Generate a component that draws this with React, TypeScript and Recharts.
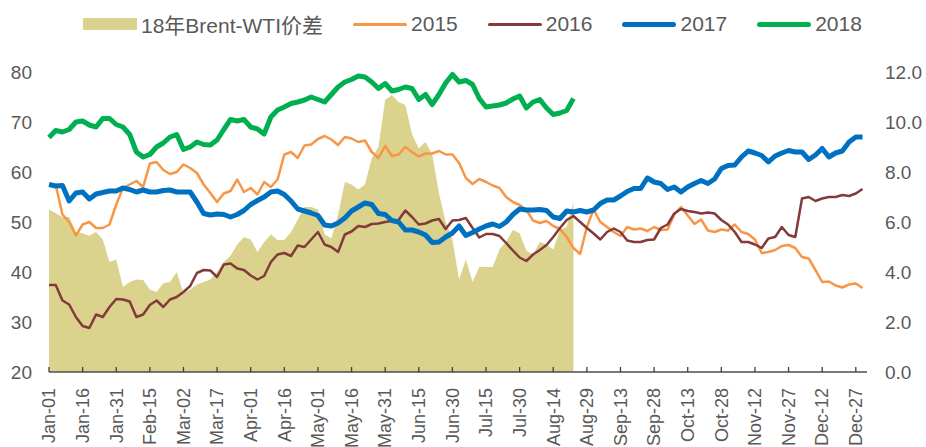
import React from "react";
import { ComposedChart, Area, Line, XAxis, YAxis } from "recharts";

const FONT = '"Liberation Sans", Arial, "Noto Sans CJK SC", sans-serif';
const TEXT = "#595959";

// one point every 3 days, day 0 = Jan-01
const days = Array.from({ length: 122 }, (_, i) => i * 3);

const tickDays = [0, 15, 30, 45, 60, 75, 90, 105, 120, 135, 150, 165, 180, 195, 210, 225, 240, 255, 270, 285, 300, 315, 330, 345, 360];
const tickLabels = [
  "Jan-01", "Jan-16", "Jan-31", "Feb-15", "Mar-02", "Mar-17", "Apr-01", "Apr-16", "May-01",
  "May-16", "May-31", "Jun-15", "Jun-30", "Jul-15", "Jul-30", "Aug-14", "Aug-29", "Sep-13",
  "Sep-28", "Oct-13", "Oct-28", "Nov-12", "Nov-27", "Dec-12", "Dec-27",
];

const wti2015 = [
  57.4, 57.4, 51.5, 50, 47.3, 49.5, 50, 48.8, 48.8, 49.5,
  53.5, 56.8, 57.5, 58.2, 57, 61.7, 62, 60.4, 59.6, 60,
  61.5, 60.8, 59.8, 57.5, 55.8, 54, 55.7, 56.2, 58.5, 56,
  56.8, 55.5, 58, 57, 58.5, 63.5, 64, 62.8, 65.3, 65.5,
  66.6, 67.2, 66.5, 65.4, 67, 66.7, 66, 66.3, 64, 62.8,
  65.2, 63.2, 63.5, 65, 64, 63.1, 63.7, 63.7, 64.2, 63.5,
  63.5, 61.8, 58.8, 57.6, 58.6, 58, 57.3, 56.8, 55, 54,
  53.4, 52.4, 50.3, 49.8, 50.2, 49.2, 48.6, 47, 44.8, 43.6,
  49, 52.5, 50, 49, 48, 47.2, 49, 48.5, 48.7, 48.2,
  49, 48.4, 48.5, 51.5, 53, 51.3, 49.6, 50.5, 48.3, 48,
  48.5, 48.3, 49.5, 48, 47.6, 46.5, 43.8, 44, 44.4, 45.2,
  45.4, 44.8, 43, 42.7, 40.4, 38, 38.1, 37.3, 36.9, 37.5,
  37.7, 36.8,
];

const wti2016 = [
  37.4, 37.4, 34.3, 33.5, 31, 29.2, 28.8, 31.5, 31, 33,
  34.6, 34.5, 34.1, 31, 31.5, 33.4, 34.3, 33, 34.5, 35,
  36, 37.2, 39.8, 40.4, 40.3, 39, 41.5, 41.7, 40.7, 40.4,
  39.3, 38.5, 39.2, 42, 43.5, 43.8, 43.2, 45.3, 45, 46.5,
  48, 45.5, 45, 44, 47.5, 48.1, 49.2, 49, 49.6, 49.7,
  50, 50.2, 50.4, 52.3, 51, 49.5, 49.7, 50.3, 50.6, 48.6,
  50.3, 50.4, 50.8, 48.8, 46.9, 47.6, 47.6, 47.2, 45.8, 44.3,
  42.9, 42.2, 43.5, 44.4, 45.4, 47, 48.8, 50.4, 51.2, 50,
  48.8, 47.7, 46.5, 48, 48.7, 48, 46.3, 46, 46, 46.4,
  46.5, 48.8, 49.5, 51.7, 52.6, 52.2, 52, 51.7, 51.9, 51.7,
  50.4, 49.5, 48, 46, 46, 45.5, 44.8, 46.7, 47, 49,
  47.4, 47, 54.7, 55, 54.2, 54.7, 55, 55, 55.4, 55.2,
  55.7, 56.6,
];

const wti2017 = [
  57.5, 57.2, 57.3, 54.2, 55.8, 56, 54.6, 55.6, 55.9, 56.2,
  56.2, 56.8, 56.5, 56, 56.4, 56, 56, 56.3, 56.4, 56,
  56, 56, 54, 51.7, 51.4, 51.6, 51.5, 51, 51.5, 52.3,
  53.5, 54.3, 55, 56, 56.2, 55.5, 54.2, 52.6, 52.2, 51.8,
  51.3, 49.4, 49.2, 49.8, 50.8, 52.2, 53, 53.8, 53.5, 51.7,
  51.5, 50.3, 50, 48.4, 48.4, 48, 47.4, 45.9, 46, 47,
  47.8, 49.2, 47.3, 47.9, 48.6, 49.2, 49.6, 49.1, 50, 51.5,
  52.6, 52.4, 52.4, 52.5, 52.3, 51, 50.7, 52.2, 52, 52.3,
  52, 52.4, 53.7, 54.4, 54.4, 55.2, 56.1, 56.7, 56.7, 58.8,
  58, 57.7, 56.5, 57, 56, 57, 57.7, 58.3, 57.7, 58.6,
  60.7, 61.3, 61.4, 63, 64.2, 63.8, 63.3, 62, 63.2, 63.8,
  64.3, 64, 64, 62.5, 63.4, 64.7, 63, 63.8, 64.2, 66,
  67, 67,
];

const wti2018 = [
  66.9, 68.3, 68, 68.5, 70, 70.2, 69.4, 69, 70.7, 70.7,
  69.5, 69, 67.5, 64, 63, 63.5, 65, 65.8, 67, 67.5,
  64.5, 65, 66, 65.5, 65.4, 66.4, 68.5, 70.5, 70.2, 70.5,
  69, 68.6, 67.6, 71, 72.4, 73, 73.7, 74, 74.4, 75,
  74.5, 74, 75.5, 77, 78, 78.5, 79.2, 79, 78, 76.7,
  77.7, 76.2, 76.5, 77, 76.7, 74.5, 75.5, 73.5, 75.5, 77.8,
  79.5, 78, 78.3, 77.5, 74.7, 73, 73.2, 73.4, 73.8, 74.6,
  75.2, 72.8, 74, 74.5, 72.8, 71.5, 71.8, 72.3, 74.7,
];

// 18年 Brent-WTI spread, right axis
const spread2018 = [
  6.5, 6.35, 6.2, 6.2, 5.6, 5.55, 5.45, 5.6, 5.3, 4.4,
  4.5, 3.4, 3.6, 3.7, 3.68, 3.3, 3.2, 3.55, 3.6, 4.0,
  3.15, 3.3, 3.5, 3.6, 3.7, 4.0, 4.4, 4.65, 5.1, 5.4,
  5.3, 4.8, 5.2, 5.5, 5.28, 5.28, 5.6, 6.1, 6.6, 6.6,
  6.5, 5.5, 5.35, 6.3, 7.6, 7.5, 7.3, 7.5, 8.55, 9.0,
  10.88, 11.08, 10.8, 10.68, 9.5, 8.95, 9.2, 8.7, 7.15, 6.0,
  5.3, 3.7, 4.5, 3.6, 4.2, 4.2, 4.2, 4.9, 5.22, 5.68,
  5.55, 4.85, 4.7, 5.2, 5.1, 4.9, 5.68, 5.8, 6.8,
];

const data = days.map((day, i) => ({
  day,
  spread: spread2018[i],
  y2015: wti2015[i],
  y2016: wti2016[i],
  y2017: wti2017[i],
  y2018: wti2018[i],
}));

const legendItems = [
  { label: "18年Brent-WTI价差", color: "#DBD28E", kind: "box" },
  { label: "2015", color: "#F79646", kind: "thin" },
  { label: "2016", color: "#833A3A", kind: "thin" },
  { label: "2017", color: "#0070C0", kind: "thick" },
  { label: "2018", color: "#00B050", kind: "thick" },
];

function DateTick({ x, y, payload }: any) {
  const label = tickLabels[tickDays.indexOf(payload.value)];
  return (
    <g>
      <line x1={x} x2={x} y1={y - 16} y2={y - 21} stroke="#404040" strokeWidth={1.3} />
      <text
        x={x}
        y={y}
        transform={`rotate(-90, ${x}, ${y})`}
        textAnchor="end"
        dy="0.35em"
        fill={TEXT}
        fontSize={18}
        fontFamily={FONT}
      >
        {label}
      </text>
    </g>
  );
}

function ChartLegend() {
  return (
    <div
      style={{
        position: "absolute",
        left: 83,
        top: 9,
        display: "flex",
        alignItems: "center",
        fontFamily: FONT,
        fontSize: 21,
        color: TEXT,
        whiteSpace: "nowrap",
      }}
    >
      {legendItems.map((it) => (
        <div key={it.label} style={{ display: "flex", alignItems: "center", marginRight: 30 }}>
          <span
            style={{
              display: "inline-block",
              width: 54,
              height: it.kind === "box" ? 12 : it.kind === "thick" ? 5 : 3,
              borderRadius: it.kind === "box" ? 0 : 3,
              background: it.color,
              marginRight: 4,
            }}
          />
          <span>{it.label}</span>
        </div>
      ))}
    </div>
  );
}

export default function App() {
  return (
    <div style={{ position: "absolute", left: 0, top: 0, width: 926, height: 447, background: "#fff" }}>
      <ChartLegend />
      <ComposedChart width={926} height={447} data={data} margin={{ top: 72, right: 0, bottom: 0, left: 0 }}>
        <XAxis
          dataKey="day"
          type="number"
          domain={[0, 365]}
          ticks={tickDays}
          interval={0}
          height={75}
          tickSize={0}
          tickMargin={16}
          tick={<DateTick />}
          axisLine={{ stroke: "#4d4d4d", strokeWidth: 1.5 }}
          tickLine={false}
        />
        <YAxis
          yAxisId="left"
          domain={[20, 80]}
          ticks={[20, 30, 40, 50, 60, 70, 80]}
          width={49}
          axisLine={false}
          tickLine={false}
          tickSize={0}
          tickMargin={17}
          tick={{ fill: TEXT, fontSize: 19, fontFamily: FONT }}
        />
        <YAxis
          yAxisId="right"
          orientation="right"
          domain={[0, 12]}
          ticks={[0, 2, 4, 6, 8, 10, 12]}
          tickFormatter={(v: number) => v.toFixed(1)}
          width={59}
          axisLine={false}
          tickLine={false}
          tickSize={0}
          tickMargin={18}
          tick={{ fill: TEXT, fontSize: 19, fontFamily: FONT }}
        />
        <Area
          yAxisId="right"
          dataKey="spread"
          type="linear"
          fill="#DBD28E"
          fillOpacity={1}
          stroke="none"
          isAnimationActive={false}
        />
        <Line yAxisId="left" dataKey="y2015" type="linear" stroke="#F79646" strokeWidth={2.5} dot={false} strokeLinejoin="round" isAnimationActive={false} />
        <Line yAxisId="left" dataKey="y2016" type="linear" stroke="#833A3A" strokeWidth={2.5} dot={false} strokeLinejoin="round" isAnimationActive={false} />
        <Line yAxisId="left" dataKey="y2017" type="linear" stroke="#0070C0" strokeWidth={5} dot={false} strokeLinejoin="round" isAnimationActive={false} />
        <Line yAxisId="left" dataKey="y2018" type="linear" stroke="#00B050" strokeWidth={5} dot={false} strokeLinejoin="round" isAnimationActive={false} />
      </ComposedChart>
    </div>
  );
}
